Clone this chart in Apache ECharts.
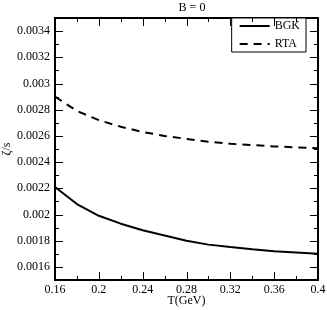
<!DOCTYPE html>
<html><head><meta charset="utf-8">
<script src="https://cdn.jsdelivr.net/npm/echarts@6/dist/echarts.min.js"></script>
<style>html,body{margin:0;padding:0;background:#fff}#c{width:327px;height:310px}</style>
</head><body><div id="c"></div>
<script>
var T = [0.16, 0.18, 0.20, 0.22, 0.24, 0.26, 0.28, 0.30, 0.32, 0.34, 0.36, 0.38, 0.40];
var bgk = [0.00221, 0.00208, 0.00199, 0.00193, 0.00188, 0.00184, 0.00180, 0.00177, 0.001752, 0.001735, 0.00172, 0.00171, 0.00170];
var rta = [0.00290, 0.00279, 0.00272, 0.00267, 0.00263, 0.00260, 0.002577, 0.002556, 0.00254, 0.00253, 0.00252, 0.002512, 0.002505];
var yMajor = [0.0016, 0.0018, 0.0020, 0.0022, 0.0024, 0.0026, 0.0028, 0.0030, 0.0032, 0.0034];
var yMinor = [0.0017, 0.0019, 0.0021, 0.0023, 0.0025, 0.0027, 0.0029, 0.0031, 0.0033];
var xMajor = [0.16, 0.20, 0.24, 0.28, 0.32, 0.36, 0.40];
var xMinor = [0.18, 0.22, 0.26, 0.30, 0.34, 0.38];

var FONT = 'Liberation Serif';
var X_MIN = 0.16, X_MAX = 0.4, Y_MIN = 0.0015, Y_MAX = 0.0035;
function pair(xs, ys){ return xs.map(function(x,i){ return [x, ys[i]]; }); }
function fmt(v){ return String(+(+v).toFixed(5)); }

// tick marks list: [kind, value]; kind 0 = x major, 1 = x minor, 2 = y major, 3 = y minor
var tickData = [];
xMajor.forEach(function(v){ tickData.push([0, v]); });
xMinor.forEach(function(v){ tickData.push([1, v]); });
yMajor.forEach(function(v){ tickData.push([2, v]); });
yMinor.forEach(function(v){ tickData.push([3, v]); });

function renderTick(params, api){
  var kind = api.value(0), v = api.value(1);
  var len = (kind === 0 || kind === 2) ? 8 : 4;
  var st = {stroke:'#000', lineWidth:1};
  var a, b;
  if (kind < 2) {
    a = api.coord([v, Y_MIN]); b = api.coord([v, Y_MAX]);
    var x = Math.round(a[0]) + 0.5;
    return {type:'group', children:[
      {type:'line', shape:{x1:x, y1:a[1], x2:x, y2:a[1]-len}, style:st},
      {type:'line', shape:{x1:x, y1:b[1], x2:x, y2:b[1]+len}, style:st}
    ]};
  } else {
    a = api.coord([X_MIN, v]); b = api.coord([X_MAX, v]);
    var y = Math.round(a[1]) + 0.5;
    return {type:'group', children:[
      {type:'line', shape:{x1:a[0], y1:y, x2:a[0]+len, y2:y}, style:st},
      {type:'line', shape:{x1:b[0], y1:y, x2:b[0]-len, y2:y}, style:st}
    ]};
  }
}

function yAx(pos, labels, name){
  return {
    type:'value', position:pos, min:Y_MIN, max:Y_MAX,
    name: name || '', nameLocation:'middle', nameGap:42, nameRotate:90, nameMoveOverlap:false,
    nameTextStyle:{fontFamily:FONT, fontSize:12, color:'#000'},
    axisLine:{show:true, onZero:false, lineStyle:{color:'#000', width:2}},
    axisTick:{show:false},
    axisLabel:{show:labels, customValues:yMajor, margin:5, formatter:fmt, fontFamily:FONT, fontSize:12, color:'#000'},
    splitLine:{show:false}
  };
}
function xAx(pos, labels, name){
  return {
    type:'value', position:pos, min:X_MIN, max:X_MAX, interval:0.04,
    name: name || '', nameLocation:'middle', nameGap:15, nameMoveOverlap:false,
    nameTextStyle:{fontFamily:FONT, fontSize:12, color:'#000'},
    axisLine:{show:true, onZero:false, lineStyle:{color:'#000', width:2}},
    axisTick:{show:false},
    axisLabel:{show:labels, customValues:xMajor, margin:4, formatter:fmt, fontFamily:FONT, fontSize:12, color:'#000', showMinLabel:true, showMaxLabel:true},
    splitLine:{show:false}
  };
}

var chart = echarts.init(document.getElementById('c'));
chart.setOption({
  animation:false,
  backgroundColor:'#fff',
  title:{text:'B = 0', left:187, top:-3, textAlign:'center', textStyle:{fontFamily:FONT, fontSize:12, fontWeight:'normal', color:'#000'}},
  grid:{left:55, right:9, top:18, bottom:30, containLabel:false, outerBoundsMode:'none'},
  legend:{
    orient:'vertical', right:21, top:18, padding:[2,6,2,7], itemGap:6,
    itemWidth:30, itemHeight:10, backgroundColor:'#fff', borderColor:'#000', borderWidth:1, borderRadius:0,
    itemStyle:{opacity:0},
    textStyle:{fontFamily:FONT, fontSize:12, color:'#000'},
    data:['BGK','RTA']
  },
  xAxis:[xAx('bottom', true, 'T(GeV)'), xAx('top', false)],
  yAxis:[yAx('left', true, 'ζ/s'), yAx('right', false)],
  series:[
    {name:'ticks', type:'custom', data:tickData, renderItem:renderTick, clip:false, silent:true, z:5},
    {name:'BGK', type:'line', data:pair(T,bgk), symbol:'none', lineStyle:{color:'#000', width:2, type:'solid'}, itemStyle:{color:'#000'}},
    {name:'RTA', type:'line', data:pair(T,rta), symbol:'none', lineStyle:{color:'#000', width:2, type:[8,6]}, itemStyle:{color:'#000'}}
  ]
});
</script></body></html>
